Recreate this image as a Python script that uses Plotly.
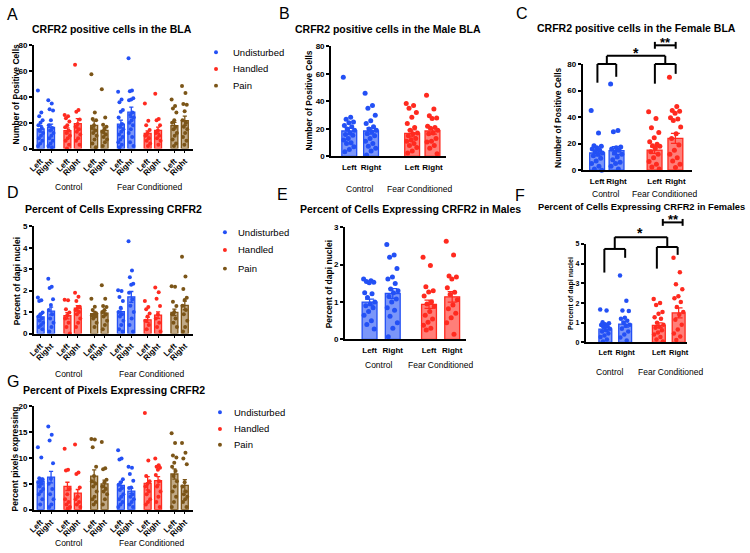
import plotly.graph_objects as go

W, H = 750, 553
FONT = "Liberation Sans, Arial, sans-serif"

# ------------------------------------------------------------------ data
side_labels = ["Left", "Right"]
cond_labels = ["Control", "Fear Conditioned"]
group_labels = ["Undisturbed", "Handled", "Pain"]

# 12-bar panels: CtrlUndist L/R, CtrlHandled L/R, CtrlPain L/R, FCUndist L/R, FCHandled L/R, FCPain L/R
A_means = [15.2, 16.5, 14.0, 19.3, 18.0, 14.2, 19.0, 28.2, 11.7, 14.2, 17.8, 21.6]
A_sems = [2.5, 2.5, 2.0, 4.0, 3.5, 2.5, 3.0, 4.0, 2.0, 2.5, 2.5, 3.5]
A_points = [
    [45, 28, 25, 22, 20, 18, 16, 14, 12, 10, 8, 6, 4, 2],
    [37.5, 35, 30.5, 29.5, 22, 18, 16, 14, 12, 10, 8, 6, 4, 2, 1],
    [26, 25, 23.5, 21, 18, 16.5, 14, 12, 10, 8, 6, 3, 0],
    [65, 30, 28.5, 22.5, 19, 17, 15, 13, 11, 8, 6, 3],
    [57.5, 28, 23, 22, 18, 16, 14, 12, 10, 7, 4, 1],
    [46, 24, 18.5, 17, 15, 13, 11, 9, 7, 5, 2],
    [44, 38, 36, 30, 28.5, 24, 19, 17, 15, 13, 11, 9, 7, 5, 3, 1],
    [70, 45, 44.5, 39, 38, 37.5, 28, 26, 24, 22, 20, 18, 15, 12, 9, 5, 2],
    [35, 21.5, 18, 14.5, 12, 10, 8, 6, 4, 2],
    [42.5, 23, 22, 18, 14, 12, 10, 8, 6, 3],
    [38, 33, 31, 28, 22, 20, 17, 15, 12, 10, 7, 4, 2],
    [48.5, 43, 34.5, 34, 29, 22, 20, 17, 15, 12, 9, 6, 3],
]

D_means = [0.78, 1.05, 0.83, 1.18, 0.93, 0.95, 1.02, 1.71, 0.64, 0.86, 0.99, 1.31]
D_sems = [0.12, 0.18, 0.15, 0.12, 0.10, 0.12, 0.13, 0.25, 0.12, 0.15, 0.15, 0.20]
D_points = [
    [1.68, 1.55, 1.52, 0.98, 0.9, 0.8, 0.7, 0.6, 0.5, 0.4, 0.3, 0.2],
    [2.55, 2.18, 2.12, 1.6, 1.33, 1.1, 0.9, 0.7, 0.5, 0.3, 0.1],
    [1.58, 1.55, 1.13, 0.98, 0.85, 0.7, 0.5, 0.3, 0.0],
    [1.9, 1.72, 1.52, 1.25, 1.2, 1.1, 1.0, 0.9, 0.7, 0.5, 0.3],
    [1.62, 1.25, 1.1, 0.95, 0.9, 0.85, 0.8, 0.7, 0.5, 0.3],
    [2.25, 1.62, 1.28, 1.24, 1.1, 1.0, 0.9, 0.8, 0.6, 0.4, 0.2],
    [2.02, 1.98, 1.7, 1.52, 1.2, 1.0, 0.9, 0.8, 0.6, 0.4, 0.2, 0.1],
    [4.3, 2.94, 2.63, 2.32, 2.28, 1.9, 1.6, 1.3, 1.0, 0.7, 0.4, 0.1],
    [1.52, 1.24, 1.13, 0.93, 0.8, 0.6, 0.4, 0.2],
    [2.15, 1.92, 1.62, 1.28, 0.9, 0.7, 0.5, 0.3, 0.1],
    [2.2, 2.18, 1.48, 1.28, 1.0, 0.9, 0.7, 0.5, 0.3],
    [3.58, 2.66, 2.08, 1.67, 1.57, 1.3, 1.1, 0.9, 0.6, 0.3, 0.1],
]

G_means = [5.5, 6.3, 4.5, 3.2, 6.5, 5.0, 4.7, 3.6, 5.1, 5.6, 6.9, 4.7]
G_sems = [0.6, 1.1, 0.8, 0.7, 1.2, 0.7, 0.7, 0.5, 1.3, 0.8, 1.0, 1.1]
G_points = [
    [12.1, 10.1, 6.1, 5.9, 5.6, 5.3, 5.0, 4.5, 4.0, 3.5, 3.0, 2.0, 1.0],
    [16.1, 14.5, 13.4, 9.0, 6.0, 5.0, 4.0, 3.0, 2.0, 1.0, 0.5],
    [11.8, 7.7, 7.6, 4.0, 3.0, 2.0, 1.5, 1.0, 0.5, 0.2],
    [12.6, 7.2, 6.9, 4.3, 2.5, 2.0, 1.5, 1.0, 0.5],
    [13.7, 13.6, 12.1, 8.3, 6.5, 5.5, 5.0, 4.5, 3.5, 2.5, 2.0, 1.5, 1.0],
    [13.1, 8.0, 7.8, 5.8, 5.3, 4.5, 4.0, 3.5, 3.0, 2.0, 1.0],
    [11.5, 9.9, 9.7, 5.9, 5.3, 4.8, 4.2, 3.8, 3.0, 2.5, 2.0, 1.5, 1.0, 0.5],
    [8.3, 8.1, 6.9, 5.6, 4.3, 4.2, 3.0, 2.5, 2.0, 1.5, 1.0, 0.5],
    [18.7, 9.5, 6.5, 5.5, 5.0, 4.5, 3.5, 3.0, 2.0, 1.5, 1.0],
    [9.9, 8.6, 8.3, 8.1, 7.7, 6.7, 5.5, 4.5, 3.5, 2.5, 1.5, 0.5],
    [14.8, 12.9, 10.5, 10.1, 9.1, 8.3, 7.5, 6.5, 5.5, 4.5, 3.5, 2.5, 1.5, 0.5],
    [12.9, 11.0, 9.9, 8.8, 5.3, 4.5, 3.5, 3.0, 2.5, 2.0, 1.5, 0.5],
]

# 4-bar panels: Ctrl L, Ctrl R, FC L, FC R
B_means = [18.5, 18.5, 16.8, 18.5]
B_sems = [2.3, 2.2, 2.5, 2.3]
B_points = [
    [57.5, 28.5, 27, 25, 24.5, 22.5, 21.5, 20, 19, 17, 16, 15.5, 13, 12, 10, 9.5, 7, 5, 3.5],
    [46, 37, 35, 30, 26, 24, 21.5, 20, 19, 18, 16.5, 15, 13, 11, 9.5, 7.5, 6, 4, 1],
    [38.5, 37, 35, 32, 28.5, 24, 21, 19, 17, 16.5, 15, 13, 12, 11, 9.5, 8, 6.5, 4, 2.5],
    [44.5, 34.5, 29.5, 28, 27.5, 22, 21, 20.5, 19, 17, 16.5, 13, 11, 10.5, 8, 6, 2],
]

C_means = [13.0, 14.8, 15.2, 24.0]
C_sems = [2.2, 3.0, 2.5, 3.8]
C_points = [
    [45, 28, 18.5, 18, 17, 16, 15, 14, 13, 12, 11, 9, 7, 5, 3, 1, 0],
    [65, 30, 29, 17.5, 17, 16, 15, 13, 12, 10, 8, 6, 5, 3, 1],
    [44, 39, 32, 28.5, 24.5, 21.5, 19.5, 18.5, 18, 16.5, 14, 12, 9.5, 6.5, 4.5, 2.5, 1],
    [70, 48, 45, 44.5, 43, 39.5, 38.5, 37.5, 32.5, 27.5, 24, 19, 15, 12, 9.5, 7, 4.5, 2],
]

E_means = [1.0, 1.23, 0.94, 1.14]
E_sems = [0.08, 0.13, 0.11, 0.14]
E_points = [
    [1.62, 1.57, 1.55, 1.53, 1.52, 1.25, 1.22, 1.12, 1.0, 0.95, 0.9, 0.85, 0.75, 0.65, 0.5, 0.4, 0.28],
    [2.54, 2.26, 2.2, 1.9, 1.67, 1.62, 1.5, 1.35, 1.3, 1.25, 1.15, 1.08, 1.0, 0.85, 0.78, 0.62, 0.45, 0.3, 0.07],
    [2.2, 1.98, 1.41, 1.3, 1.27, 1.16, 1.0, 0.95, 0.88, 0.75, 0.65, 0.55, 0.46, 0.38, 0.3, 0.25],
    [2.63, 2.26, 1.7, 1.67, 1.62, 1.38, 1.26, 1.2, 1.06, 0.92, 0.82, 0.7, 0.58, 0.45, 0.14],
]

F_means = [0.67, 0.93, 0.87, 1.5]
F_sems = [0.10, 0.15, 0.12, 0.25]
F_points = [
    [1.67, 1.62, 1.02, 0.97, 0.92, 0.88, 0.82, 0.78, 0.7, 0.62, 0.55, 0.45, 0.35, 0.28, 0.15, 0.05],
    [3.4, 2.12, 1.62, 1.6, 1.25, 1.2, 1.1, 1.0, 0.9, 0.85, 0.7, 0.55, 0.4, 0.25, 0.1],
    [2.2, 2.0, 1.9, 1.55, 1.45, 1.28, 1.2, 1.0, 0.9, 0.8, 0.75, 0.62, 0.5, 0.4, 0.28, 0.15, 0.05],
    [4.3, 3.57, 2.95, 2.7, 2.35, 2.25, 2.05, 1.8, 1.55, 1.4, 1.15, 0.9, 0.65, 0.45, 0.3, 0.12],
]

# ------------------------------------------------------------------ style
BLUE, RED, BROWN = "#2350F5", "#FF2A1F", "#7B5518"
FILL = {BLUE: "rgba(35,80,245,0.6)", RED: "rgba(255,42,31,0.6)", BROWN: "rgba(140,98,35,0.55)"}
COLS12 = [BLUE, BLUE, RED, RED, BROWN, BROWN, BLUE, BLUE, RED, RED, BROWN, BROWN]
COLS4 = [BLUE, BLUE, RED, RED]


def fx(p):
    return p / W


def fy(p):
    return 1 - p / H


fig = go.Figure()
layout = dict(width=W, height=H, margin=dict(l=0, r=0, t=0, b=0),
              paper_bgcolor="white", plot_bgcolor="white", barmode="overlay",
              showlegend=False, font=dict(family=FONT, color="black"))
annotations = []
shapes = []


def text(x, y, s, size, bold=False, angle=0, xanchor="center", yanchor="middle"):
    annotations.append(dict(x=fx(x), y=fy(y), xref="paper", yref="paper", text=s,
                            showarrow=False, textangle=angle, xanchor=xanchor, yanchor=yanchor,
                            font=dict(size=size, family=FONT, color="black",
                                      weight="bold" if bold else "normal")))


def line(x0, y0, x1, y1, w=2):
    shapes.append(dict(type="line", xref="paper", yref="paper", x0=fx(x0), y0=fy(y0),
                       x1=fx(x1), y1=fy(y1), line=dict(color="black", width=w)))


def panel(n, xpx, ypx, xr, yr, dtick, pos, means, sems, points, cols, barw, msize,
          xtickangle, xticks, tickfs=8, ytickfs=8):
    xa = "xaxis" if n == 1 else f"xaxis{n}"
    ya = "yaxis" if n == 1 else f"yaxis{n}"
    xr_ = "x" if n == 1 else f"x{n}"
    yr_ = "y" if n == 1 else f"y{n}"
    layout[xa] = dict(domain=[fx(xpx[0]), fx(xpx[1])], range=xr, anchor=yr_,
                      showline=True, linecolor="black", linewidth=1.5,
                      tickvals=pos, ticktext=[side_labels[i % 2] for i in range(len(pos))],
                      tickangle=xtickangle, ticks="outside",
                      ticklen=3 if xticks else 2, tickwidth=1,
                      tickcolor="black" if xticks else "rgba(0,0,0,0)",
                      tickfont=dict(size=tickfs, family=FONT, color="black", weight="bold"),
                      showgrid=False, zeroline=False, fixedrange=True)
    layout[ya] = dict(domain=[fy(ypx[1]), fy(ypx[0])], range=yr, anchor=xr_,
                      showline=True, linecolor="black", linewidth=1.5,
                      dtick=dtick, tick0=0, ticks="outside", ticklen=3, tickwidth=1.5,
                      tickcolor="black",
                      tickfont=dict(size=ytickfs, family=FONT, color="black", weight="bold"),
                      showgrid=False, zeroline=False, fixedrange=True)
    golden = 0.6180339
    for i in range(len(pos)):
        c = cols[i]
        fig.add_trace(go.Bar(x=[pos[i]], y=[means[i]], width=barw, xaxis=xr_, yaxis=yr_,
                             marker=dict(color=FILL[c], line=dict(color=c, width=1.3)),
                             error_y=dict(type="data", array=[sems[i]], color=c,
                                          thickness=1.3, width=barw * 0.3)))
        pts = points[i]
        xs = [pos[i] + ((k * golden) % 1 - 0.5) * barw * 0.8 for k in range(len(pts))]
        fig.add_trace(go.Scatter(x=xs, y=pts, mode="markers", xaxis=xr_, yaxis=yr_,
                                 cliponaxis=False,
                                 marker=dict(color=c, size=msize, line=dict(width=0))))


# 12-bar positions (pixel-based data units)
pos12 = []
for k in range(6):
    pos12 += [k * 27.0, k * 27.0 + 10.5]

panel(1, (29, 190), (42, 147), [-7, 154], [0, 80], 20, pos12, A_means, A_sems, A_points,
      COLS12, 7, 4, -45, True)
panel(2, (329, 445), (43, 155), [0, 116], [0, 80], 20, [18.5, 40.5, 82, 102.5], B_means,
      B_sems, B_points, COLS4, 15, 5, 0, False)
panel(3, (583, 693), (61, 169), [0, 110], [0, 80], 20, [14.7, 34.3, 72.7, 93.7], C_means,
      C_sems, C_points, COLS4, 15, 5, 0, False)
panel(4, (29, 190), (226, 335), [-7, 154], [0, 5], 1, pos12, D_means, D_sems, D_points,
      COLS12, 7, 4, -45, True)
panel(5, (343, 465), (227, 341), [0, 122], [0, 3], 1, [25, 48.4, 85, 108.4], E_means,
      E_sems, E_points, COLS4, 15, 5, 0, False)
panel(6, (586, 688), (244, 344), [0, 102], [0, 5], 1, [20, 40, 74, 94], F_means, F_sems,
      F_points, COLS4, 13, 4.5, 0, False, tickfs=7.5, ytickfs=7)
panel(7, (29, 190), (409, 514), [-7, 154], [0, 20], 5, pos12, G_means, G_sems, G_points,
      COLS12, 7, 4, -45, True)

# panel letters
for L, x, y in [("A", 8, 11), ("B", 282, 10), ("C", 522, 10), ("D", 8, 192),
                ("E", 280, 194), ("F", 520, 195), ("G", 8, 384)]:
    text(x, y, L, 16)

# titles
text(108, 25, "CRFR2 positive cells in the BLA", 10.5, True)
text(387, 25, "CRFR2 positive cells in the Male BLA", 10.5, True)
text(637, 24, "CRFR2 positive cells in the Female BLA", 10.5, True)
text(110, 208, "Percent of Cells Expressing CRFR2", 10.5, True)
text(409, 208, "Percent of Cells Expressing CRFR2 in Males", 10.5, True)
text(643, 206, "Percent of Cells Expressing CRFR2 in Females", 9.3, True)
text(110, 392, "Percent of Pixels Expressing CRFR2", 10.5, True)

# y-axis titles
text(11, 92, "Number of Positive Cells", 8.5, True, -90)
text(307, 98, "Number of Positive Cells", 8.5, True, -90)
text(558, 116, "Number of Positive Cells", 8.5, True, -90)
text(13, 282, "Percent of dapi nuclei", 8.5, True, -90)
text(327, 285, "Percent of dapi nuclei", 8.5, True, -90)
text(572, 294, "Percent of dapi nuclei", 7, True, -90)
text(11, 462, "Percent pixels expressing", 8.5, True, -90)

# condition labels
for (cx, fxp, yy) in [(65, 146, 186), (65, 148, 376), (65, 148, 548),
                      (358, 418, 188), (607, 666, 193), (378, 440, 367), (611, 672, 374)]:
    text(cx, yy, cond_labels[0], 8.5)
    text(fxp, yy, cond_labels[1], 8.5)

# legends
for (dx, tx, ys) in [(213, 228, (49, 66, 83)), (222, 233, (232, 250, 269)),
                     (217, 229, (415, 432, 448))]:
    for c, lab, yy in zip([BLUE, RED, BROWN], group_labels, ys):
        shapes.append(dict(type="circle", xref="paper", yref="paper",
                           x0=fx(dx - 2), x1=fx(dx + 2), y0=fy(yy + 2), y1=fy(yy - 2),
                           fillcolor=c, line=dict(width=0)))
        text(tx, yy, lab, 9.5, xanchor="left")

# significance brackets, panel C
line(598, 61, 617, 61); line(598, 61, 598, 80); line(617, 61, 617, 74)
line(656, 61, 677, 61); line(656, 61, 656, 81); line(677, 61, 677, 71)
line(607.5, 61, 607.5, 52.7); line(666.5, 61, 666.5, 52.7); line(607.5, 52.7, 666.5, 52.7)
text(637, 50, "*", 14, True)
line(656, 42, 677, 42); line(656, 38.5, 656, 45.5); line(677, 38.5, 677, 45.5)
text(667, 39.5, "**", 13, True)

# significance brackets, panel F
line(605, 249, 626, 249); line(605, 249, 605, 273); line(626, 249, 626, 258)
line(658, 247, 679, 247); line(658, 247, 658, 269); line(679, 247, 679, 255)
line(615.5, 249, 615.5, 237); line(668.5, 247, 668.5, 237); line(615.5, 237, 668.5, 237)
text(641, 233, "*", 14, True)
line(664, 222, 684, 222); line(664, 218.5, 664, 225.5); line(684, 218.5, 684, 225.5)
text(675, 219.5, "**", 13, True)

layout["annotations"] = annotations
layout["shapes"] = shapes
fig.update_layout(**layout)
fig.write_html("out.html")
